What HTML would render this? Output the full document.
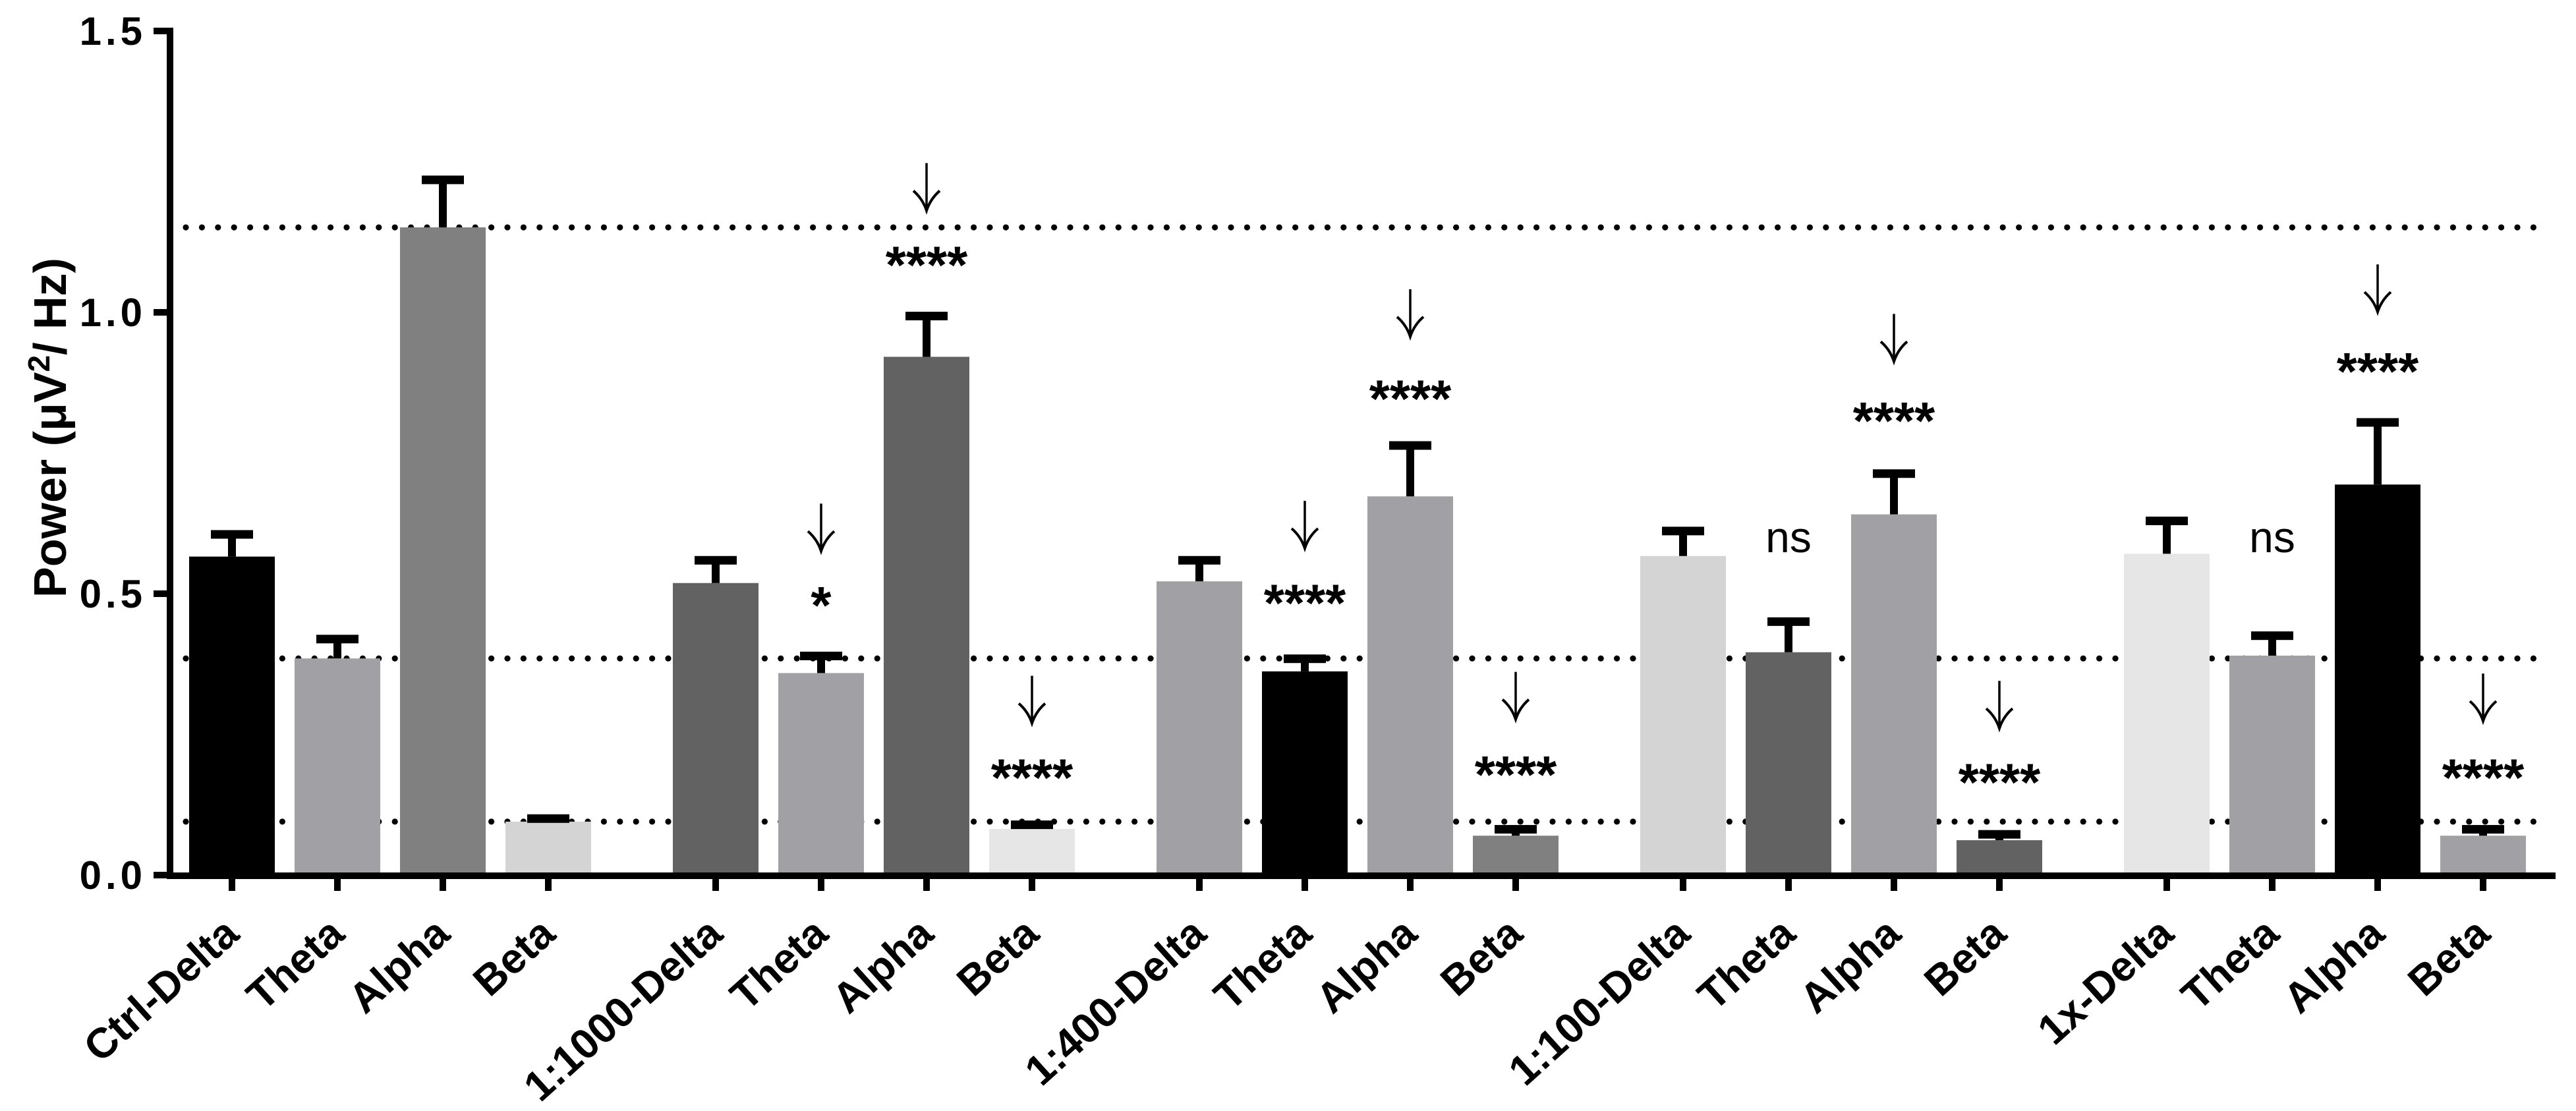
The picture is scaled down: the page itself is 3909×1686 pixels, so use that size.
<!DOCTYPE html>
<html><head><meta charset="utf-8"><style>
html,body{margin:0;padding:0;background:#fff;}
svg{display:block;font-family:"Liberation Sans",Arial,sans-serif;}
</style></head><body>
<svg id="chart" width="3909" height="1686" viewBox="0 0 3909 1686" xmlns="http://www.w3.org/2000/svg">
<g id="refs"></g>
<g id="bars"></g>
<g id="axes"></g>
<g id="annots"></g>
<text transform="translate(100,649) rotate(-90)" text-anchor="middle" font-size="70" font-weight="bold">Power (μV<tspan dy="-25" font-size="46">2</tspan><tspan dy="25">/ Hz)</tspan></text>
</svg>
<script>
const categories = ["Ctrl-Delta","Theta","Alpha","Beta","1:1000-Delta","Theta","Alpha","Beta","1:400-Delta","Theta","Alpha","Beta","1:100-Delta","Theta","Alpha","Beta","1x-Delta","Theta","Alpha","Beta"];
const means = [0.566,0.385,1.151,0.095, 0.519,0.359,0.921,0.082, 0.522,0.362,0.673,0.070, 0.567,0.396,0.641,0.062, 0.571,0.390,0.694,0.070];
const errTops = [0.606,0.420,1.236,0.101, 0.560,0.390,0.994,0.090, 0.560,0.385,0.764,0.082, 0.612,0.451,0.714,0.073, 0.630,0.426,0.805,0.082];
const colors = ["#000000","#a1a0a5","#808080","#d4d4d4", "#626262","#a1a0a5","#626262","#e6e6e6", "#a1a0a5","#000000","#a1a0a5","#808080", "#d4d4d4","#626262","#a1a0a5","#626262", "#e6e6e6","#a1a0a5","#000000","#a1a0a5"];
const refValues = [1.151,0.385,0.095];
const yTicks = [0,0.5,1.0,1.5];
const yTickLabels = ["0.0","0.5","1.0","1.5"];
const annIndex = [5,6,7,9,10,11,13,14,15,17,18,19];
const annText = ["*","****","****","****","****","****","ns","****","****","ns","****","****"];
const annArrowVal = [0.618,1.223,0.312,0.623,0.999,0.319,null,0.955,0.303,null,1.043,0.316];
const annTextVal = [0.501,1.106,0.195,0.505,0.868,0.200,0.597,0.829,0.187,0.597,0.917,0.195];

const NS="http://www.w3.org/2000/svg";
const Y0=1328, PXU=854;
function yScale(v){return Y0-PXU*v;}
function xCenter(i){return 352+160*i+94*Math.floor(i/4);}
function mk(tag,attrs,parent){const e=document.createElementNS(NS,tag);for(const k in attrs)e.setAttribute(k,attrs[k]);parent.appendChild(e);return e;}

const refs=document.getElementById('refs');
refValues.forEach((v,k)=>{
  const g=mk('g',{},refs);
  
  
  for(let x=282;x<=3862;x+=24.4){mk('circle',{cx:x.toFixed(1),cy:yScale(v),r:4.6,fill:'#000'},g);}
});

const bars=document.getElementById('bars');
const BW=130;
means.forEach((m,i)=>{
  const cx=xCenter(i);
  const r=mk('rect',{x:cx-BW/2,y:yScale(m),width:BW,height:Y0-yScale(m),fill:colors[i]},bars);
  
  
  const top=yScale(errTops[i]);
  const e=mk('g',{},bars);
  
  
  mk('rect',{x:cx-6,y:top,width:12,height:Math.max(0,yScale(m)-top),fill:'#000'},e);
  mk('rect',{x:cx-32,y:top-6,width:64,height:13,fill:'#000'},e);
});

const axes=document.getElementById('axes');
const ya=mk('rect',{x:253,y:42,width:10,height:1292,fill:'#000'},axes);


const xa=mk('rect',{x:253,y:1324,width:3625,height:10,fill:'#000'},axes);


yTicks.forEach((v,k)=>{
  mk('rect',{x:233,y:yScale(v)-5,width:22,height:10,fill:'#000'},axes);
  const t=mk('text',{x:222,y:yScale(v)+21,'text-anchor':'end','font-size':60,'font-weight':'bold','letter-spacing':'6'},axes);
  t.textContent=yTickLabels[k];
  
  
});
categories.forEach((c,i)=>{
  const cx=xCenter(i);
  mk('rect',{x:cx-5,y:1330,width:10,height:22,fill:'#000'},axes);
  const t=mk('text',{transform:`translate(${cx+14},1422) rotate(-42)`,'text-anchor':'end','font-size':64,'font-weight':'bold'},axes);
  t.textContent=c;
  
  
});

const ann=document.getElementById('annots');
annIndex.forEach((bi,k)=>{
  const cx=xCenter(bi);
  if(annArrowVal[k]!==null){
    const ay=yScale(annArrowVal[k]);
    const a=mk('g',{},ann);
    
    
    mk('line',{x1:cx,y1:ay-36,x2:cx,y2:ay+34,stroke:'#000','stroke-width':3.5},a);
    mk('path',{d:`M${cx-20},${ay+6} Q${cx-6},${ay+18} ${cx},${ay+36} Q${cx+6},${ay+18} ${cx+20},${ay+6}`,stroke:'#000','stroke-width':4,fill:'none'},a);
  }
  const ty=yScale(annTextVal[k]);
  const isNs=annText[k]==='ns';
  const t=mk('text',{x:cx,y:isNs?ty+20:ty+46,'text-anchor':'middle','font-size':isNs?66:80,'font-weight':isNs?'normal':'bold'},ann);
  t.textContent=annText[k];
  
  
});
</script>
</body></html>
